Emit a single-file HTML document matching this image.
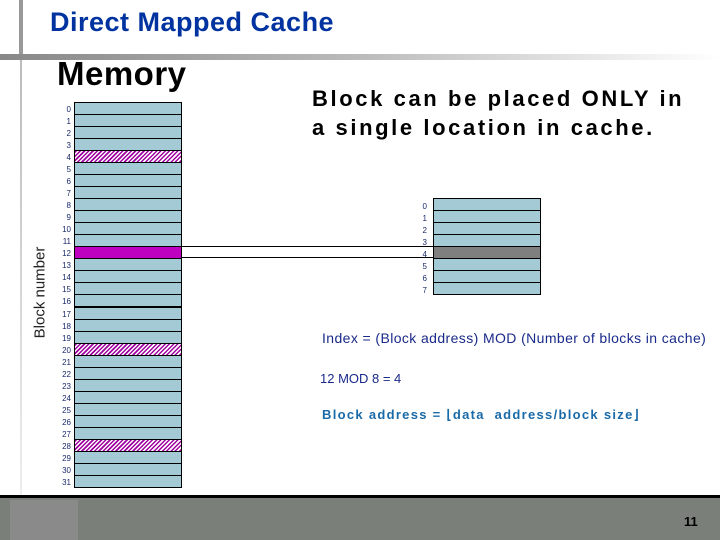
<!DOCTYPE html>
<html><head><style>
body{margin:0;width:720px;height:540px;position:relative;overflow:hidden;background:#fff;font-family:"Liberation Sans",Arial,sans-serif}
.a{position:absolute}
.lbl{position:absolute;font-size:8px;color:#1a2a6a;text-align:right;width:20px}
.row{position:absolute;box-sizing:border-box;border:1px solid #000;background:#a4cbd5}
.hatch{background:repeating-linear-gradient(135deg,#a000a0 0 1.5px,#fff 1.5px 3px)}
</style></head><body>
<div class="a" style="left:19px;top:0;width:4px;height:60px;background:#999"></div>
<div class="a" style="left:20px;top:60px;width:2px;height:435px;background:linear-gradient(#bbb,#eee)"></div>
<div class="a" style="left:0;top:54px;width:720px;height:6px;background:linear-gradient(90deg,#888,#bbb 50%,#fff)"></div>
<div class="a" style="left:50px;top:7px;font-size:27px;font-weight:bold;color:#0033a0;letter-spacing:0.5px">Direct Mapped Cache</div>
<div class="a" style="left:57px;top:55px;font-size:33px;font-weight:bold;letter-spacing:0.5px">Memory</div>
<div class="a" style="left:-10px;top:284px;transform:rotate(-90deg);font-size:15px;width:100px;text-align:center;color:#222">Block number</div>
<div class="a" style="left:312px;top:84px;font-size:22px;font-weight:bold;letter-spacing:2.6px;line-height:29px">Block can be placed ONLY in<br>a single location in cache.</div>
<div id="mem"></div><div id="cache"></div>
<div class="a" style="left:182px;top:246px;width:251px;height:12px;box-sizing:border-box;border-top:1px solid #000;border-bottom:1px solid #000"></div>
<div class="a" style="left:322px;top:330px;font-size:14px;letter-spacing:0.4px;color:#1a2a8a">Index = (Block address) MOD (Number of blocks in cache)</div>
<div class="a" style="left:320px;top:371px;font-size:13px;color:#1a2a8a">12 MOD 8 = 4</div>
<div class="a" style="left:322px;top:407px;font-size:13px;font-weight:bold;letter-spacing:1.3px;color:#1a6aa8">Block address = ⌊data&nbsp; address/block size⌋</div>
<div class="a" style="left:0;top:495px;width:720px;height:3px;background:#000"></div>
<div class="a" style="left:0;top:498px;width:720px;height:42px;background:#7a7f7a"></div>
<div class="a" style="left:10px;top:500px;width:68px;height:40px;background:#8a8a8a"></div>
<div class="a" style="left:684px;top:514px;font-size:13px;font-weight:bold">11</div>
<script>
var m='';for(var i=0;i<32;i++){var y=102+i*12.03;var c=(i==4||i==20||i==28)?' hatch':'';var s=i==12?'background:#c000c0;':'';
m+='<div class="row'+c+'" style="left:74px;top:'+y+'px;width:108px;height:13px;'+s+'"></div><div class="lbl" style="left:51px;top:'+(y+3)+'px">'+i+'</div>';}
document.getElementById('mem').innerHTML=m;
var c2='';for(var j=0;j<8;j++){var y2=198+j*12;var s2=j==4?'background:#7f7f7f;':'';
c2+='<div class="row" style="left:433px;top:'+y2+'px;width:108px;height:13px;'+s2+'"></div><div class="lbl" style="left:407px;top:'+(y2+4)+'px">'+j+'</div>';}
document.getElementById('cache').innerHTML=c2;
</script>
</body></html>
